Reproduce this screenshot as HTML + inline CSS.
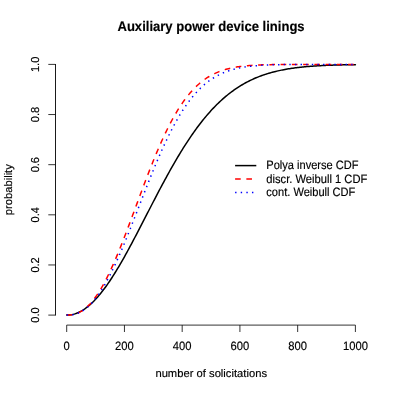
<!DOCTYPE html>
<html><head><meta charset="utf-8"><style>
html,body{margin:0;padding:0;background:#fff;}
svg{display:block;will-change:transform;opacity:0.999}
text{font-family:"Liberation Sans",sans-serif;font-size:11px;fill:#000;stroke:#000;stroke-width:0.15px;text-rendering:geometricPrecision}
</style></head><body>
<svg width="395" height="394" viewBox="0 0 395 394">
<rect width="395" height="394" fill="#fff"/>
<text transform="translate(211.05 31.40) scale(1.004,1.07)" text-anchor="middle" style="font-weight:bold;font-size:13px">Auxiliary power device linings</text>
<g stroke="#000" stroke-width="0.8" fill="none">
<path d="M55.5 64.0 V315.5" stroke-width="0.9"/>
<path d="M48.3 315.1 H55.4 M48.3 264.96000000000004 H55.4 M48.3 214.82 H55.4 M48.3 164.68 H55.4 M48.3 114.53999999999999 H55.4 M48.3 64.4 H55.4"/>
<path d="M66.7 325.1 H355.4"/>
<path d="M66.7 325.1 V332 M124.44 325.1 V332 M182.18 325.1 V332 M239.92000000000002 325.1 V332 M297.66 325.1 V332 M355.4 325.1 V332"/>
</g>
<text transform="translate(66.70 349.80) scale(1.02,1.1)" text-anchor="middle">0</text><text transform="translate(124.44 349.80) scale(1.02,1.1)" text-anchor="middle">200</text><text transform="translate(182.18 349.80) scale(1.02,1.1)" text-anchor="middle">400</text><text transform="translate(239.92 349.80) scale(1.02,1.1)" text-anchor="middle">600</text><text transform="translate(297.66 349.80) scale(1.02,1.1)" text-anchor="middle">800</text><text transform="translate(355.40 349.80) scale(1.02,1.1)" text-anchor="middle">1000</text>
<text transform="translate(211.20 376.50) scale(1.02,1.0)" text-anchor="middle">number of solicitations</text>
<text transform="translate(39.05 315.10) rotate(-90) scale(1.0,1.05)" text-anchor="middle">0.0</text><text transform="translate(39.05 264.96) rotate(-90) scale(1.0,1.05)" text-anchor="middle">0.2</text><text transform="translate(39.05 214.82) rotate(-90) scale(1.0,1.05)" text-anchor="middle">0.4</text><text transform="translate(39.05 164.68) rotate(-90) scale(1.0,1.05)" text-anchor="middle">0.6</text><text transform="translate(39.05 114.54) rotate(-90) scale(1.0,1.05)" text-anchor="middle">0.8</text><text transform="translate(39.05 64.40) rotate(-90) scale(1.0,1.05)" text-anchor="middle">1.0</text>
<text transform="translate(11.60 189.70) rotate(-90) scale(1.018,1.0)" text-anchor="middle">probability</text>
<g fill="none" stroke-width="1.5" stroke-linejoin="round">
<path d="M66.70 315.10 L67.85 315.08 L69.01 315.00 L70.16 314.88 L71.32 314.70 L72.47 314.47 L73.63 314.19 L74.78 313.86 L75.94 313.48 L77.09 313.04 L78.25 312.55 L79.40 312.01 L80.56 311.43 L81.71 310.79 L82.87 310.09 L84.02 309.35 L85.18 308.56 L86.33 307.72 L87.49 306.83 L88.64 305.89 L89.80 304.91 L90.95 303.88 L92.11 302.80 L93.26 301.67 L94.42 300.50 L95.57 299.28 L96.72 298.02 L97.88 296.72 L99.03 295.37 L100.19 293.98 L101.34 292.55 L102.50 291.08 L103.65 289.57 L104.81 288.02 L105.96 286.44 L107.12 284.82 L108.27 283.16 L109.43 281.46 L110.58 279.74 L111.74 277.98 L112.89 276.19 L114.05 274.37 L115.20 272.51 L116.36 270.63 L117.51 268.73 L118.67 266.79 L119.82 264.83 L120.98 262.85 L122.13 260.84 L123.29 258.81 L124.44 256.76 L125.59 254.69 L126.75 252.59 L127.90 250.49 L129.06 248.36 L130.21 246.22 L131.37 244.06 L132.52 241.90 L133.68 239.71 L134.83 237.52 L135.99 235.32 L137.14 233.11 L138.30 230.89 L139.45 228.66 L140.61 226.43 L141.76 224.19 L142.92 221.95 L144.07 219.70 L145.23 217.46 L146.38 215.21 L147.54 212.96 L148.69 210.72 L149.85 208.47 L151.00 206.23 L152.16 204.00 L153.31 201.76 L154.46 199.54 L155.62 197.32 L156.77 195.11 L157.93 192.90 L159.08 190.71 L160.24 188.52 L161.39 186.35 L162.55 184.19 L163.70 182.04 L164.86 179.90 L166.01 177.78 L167.17 175.67 L168.32 173.57 L169.48 171.50 L170.63 169.43 L171.79 167.39 L172.94 165.36 L174.10 163.35 L175.25 161.36 L176.41 159.39 L177.56 157.43 L178.72 155.50 L179.87 153.59 L181.03 151.69 L182.18 149.82 L183.33 147.97 L184.49 146.14 L185.64 144.34 L186.80 142.56 L187.95 140.79 L189.11 139.06 L190.26 137.34 L191.42 135.65 L192.57 133.98 L193.73 132.34 L194.88 130.72 L196.04 129.13 L197.19 127.56 L198.35 126.01 L199.50 124.49 L200.66 122.99 L201.81 121.52 L202.97 120.07 L204.12 118.64 L205.28 117.24 L206.43 115.87 L207.59 114.52 L208.74 113.19 L209.90 111.89 L211.05 110.62 L212.20 109.36 L213.36 108.14 L214.51 106.93 L215.67 105.75 L216.82 104.59 L217.98 103.46 L219.13 102.35 L220.29 101.26 L221.44 100.20 L222.60 99.16 L223.75 98.14 L224.91 97.15 L226.06 96.17 L227.22 95.22 L228.37 94.29 L229.53 93.39 L230.68 92.50 L231.84 91.63 L232.99 90.79 L234.15 89.96 L235.30 89.16 L236.46 88.38 L237.61 87.61 L238.77 86.86 L239.92 86.14 L241.07 85.43 L242.23 84.74 L243.38 84.07 L244.54 83.42 L245.69 82.78 L246.85 82.16 L248.00 81.56 L249.16 80.98 L250.31 80.41 L251.47 79.86 L252.62 79.32 L253.78 78.80 L254.93 78.29 L256.09 77.80 L257.24 77.32 L258.40 76.86 L259.55 76.41 L260.71 75.98 L261.86 75.56 L263.02 75.15 L264.17 74.75 L265.33 74.37 L266.48 73.99 L267.64 73.63 L268.79 73.28 L269.94 72.95 L271.10 72.62 L272.25 72.30 L273.41 72.00 L274.56 71.70 L275.72 71.42 L276.87 71.14 L278.03 70.88 L279.18 70.62 L280.34 70.37 L281.49 70.13 L282.65 69.90 L283.80 69.68 L284.96 69.46 L286.11 69.25 L287.27 69.05 L288.42 68.86 L289.58 68.67 L290.73 68.50 L291.89 68.32 L293.04 68.16 L294.20 68.00 L295.35 67.84 L296.51 67.70 L297.66 67.55 L298.81 67.42 L299.97 67.28 L301.12 67.16 L302.28 67.04 L303.43 66.92 L304.59 66.81 L305.74 66.70 L306.90 66.60 L308.05 66.50 L309.21 66.40 L310.36 66.31 L311.52 66.22 L312.67 66.14 L313.83 66.06 L314.98 65.98 L316.14 65.91 L317.29 65.84 L318.45 65.77 L319.60 65.71 L320.76 65.64 L321.91 65.58 L323.07 65.53 L324.22 65.47 L325.38 65.42 L326.53 65.37 L327.68 65.32 L328.84 65.28 L329.99 65.24 L331.15 65.19 L332.30 65.15 L333.46 65.12 L334.61 65.08 L335.77 65.05 L336.92 65.01 L338.08 64.98 L339.23 64.95 L340.39 64.92 L341.54 64.90 L342.70 64.87 L343.85 64.85 L345.01 64.82 L346.16 64.80 L347.32 64.78 L348.47 64.76 L349.63 64.74 L350.78 64.72 L351.94 64.71 L353.09 64.69 L354.25 64.67 L355.40 64.66" stroke="#000" stroke-linecap="round"/>
<path d="M66.70 315.10 L67.85 315.09 L69.01 315.05 L70.16 314.96 L71.32 314.83 L72.47 314.65 L73.63 314.42 L74.78 314.12 L75.94 313.77 L77.09 313.36 L78.25 312.87 L79.40 312.33 L80.56 311.71 L81.71 311.02 L82.87 310.27 L84.02 309.44 L85.18 308.54 L86.33 307.56 L87.49 306.51 L88.64 305.38 L89.80 304.18 L90.95 302.91 L92.11 301.55 L93.26 300.13 L94.42 298.63 L95.57 297.05 L96.72 295.40 L97.88 293.68 L99.03 291.88 L100.19 290.01 L101.34 288.07 L102.50 286.07 L103.65 283.99 L104.81 281.85 L105.96 279.64 L107.12 277.37 L108.27 275.04 L109.43 272.64 L110.58 270.19 L111.74 267.68 L112.89 265.12 L114.05 262.51 L115.20 259.84 L116.36 257.13 L117.51 254.38 L118.67 251.58 L119.82 248.74 L120.98 245.86 L122.13 242.95 L123.29 240.00 L124.44 237.03 L125.59 234.03 L126.75 231.00 L127.90 227.95 L129.06 224.89 L130.21 221.80 L131.37 218.71 L132.52 215.60 L133.68 212.48 L134.83 209.36 L135.99 206.24 L137.14 203.12 L138.30 199.99 L139.45 196.88 L140.61 193.77 L141.76 190.68 L142.92 187.59 L144.07 184.52 L145.23 181.47 L146.38 178.44 L147.54 175.43 L148.69 172.45 L149.85 169.49 L151.00 166.56 L152.16 163.66 L153.31 160.79 L154.46 157.96 L155.62 155.16 L156.77 152.40 L157.93 149.68 L159.08 147.00 L160.24 144.37 L161.39 141.77 L162.55 139.22 L163.70 136.71 L164.86 134.25 L166.01 131.84 L167.17 129.48 L168.32 127.16 L169.48 124.89 L170.63 122.68 L171.79 120.51 L172.94 118.39 L174.10 116.33 L175.25 114.31 L176.41 112.35 L177.56 110.44 L178.72 108.58 L179.87 106.77 L181.03 105.01 L182.18 103.31 L183.33 101.65 L184.49 100.04 L185.64 98.49 L186.80 96.98 L187.95 95.52 L189.11 94.11 L190.26 92.75 L191.42 91.43 L192.57 90.16 L193.73 88.93 L194.88 87.75 L196.04 86.62 L197.19 85.52 L198.35 84.47 L199.50 83.46 L200.66 82.49 L201.81 81.56 L202.97 80.66 L204.12 79.81 L205.28 78.99 L206.43 78.20 L207.59 77.45 L208.74 76.74 L209.90 76.05 L211.05 75.40 L212.20 74.77 L213.36 74.18 L214.51 73.62 L215.67 73.08 L216.82 72.57 L217.98 72.08 L219.13 71.62 L220.29 71.18 L221.44 70.76 L222.60 70.37 L223.75 70.00 L224.91 69.64 L226.06 69.31 L227.22 68.99 L228.37 68.70 L229.53 68.41 L230.68 68.15 L231.84 67.90 L232.99 67.66 L234.15 67.44 L235.30 67.23 L236.46 67.04 L237.61 66.85 L238.77 66.68 L239.92 66.52 L241.07 66.37 L242.23 66.23 L243.38 66.09 L244.54 65.97 L245.69 65.85 L246.85 65.75 L248.00 65.64 L249.16 65.55 L250.31 65.46 L251.47 65.38 L252.62 65.30 L253.78 65.23 L254.93 65.17 L256.09 65.11 L257.24 65.05 L258.40 65.00 L259.55 64.95 L260.71 64.90 L261.86 64.86 L263.02 64.82 L264.17 64.79 L265.33 64.76 L266.48 64.73 L267.64 64.70 L268.79 64.67 L269.94 64.65 L271.10 64.63 L272.25 64.61 L273.41 64.59 L274.56 64.57 L275.72 64.56 L276.87 64.54 L278.03 64.53 L279.18 64.52 L280.34 64.51 L281.49 64.50 L282.65 64.49 L283.80 64.48 L284.96 64.47 L286.11 64.46 L287.27 64.46 L288.42 64.45 L289.58 64.45 L290.73 64.44 L291.89 64.44 L293.04 64.43 L294.20 64.43 L295.35 64.43 L296.51 64.43 L297.66 64.42 L298.81 64.42 L299.97 64.42 L301.12 64.42 L302.28 64.41 L303.43 64.41 L304.59 64.41 L305.74 64.41 L306.90 64.41 L308.05 64.41 L309.21 64.41 L310.36 64.41 L311.52 64.41 L312.67 64.41 L313.83 64.40 L314.98 64.40 L316.14 64.40 L317.29 64.40 L318.45 64.40 L319.60 64.40 L320.76 64.40 L321.91 64.40 L323.07 64.40 L324.22 64.40 L325.38 64.40 L326.53 64.40 L327.68 64.40 L328.84 64.40 L329.99 64.40 L331.15 64.40 L332.30 64.40 L333.46 64.40 L334.61 64.40 L335.77 64.40 L336.92 64.40 L338.08 64.40 L339.23 64.40 L340.39 64.40 L341.54 64.40 L342.70 64.40 L343.85 64.40 L345.01 64.40 L346.16 64.40 L347.32 64.40 L348.47 64.40 L349.63 64.40 L350.78 64.40 L351.94 64.40 L353.09 64.40 L354.25 64.40 L355.40 64.40" stroke="#ff0000" stroke-dasharray="5.625 5.625"/>
<path d="M66.70 315.10 L67.85 315.09 L69.01 315.05 L70.16 314.97 L71.32 314.85 L72.47 314.69 L73.63 314.47 L74.78 314.20 L75.94 313.88 L77.09 313.49 L78.25 313.05 L79.40 312.55 L80.56 311.99 L81.71 311.36 L82.87 310.67 L84.02 309.91 L85.18 309.09 L86.33 308.19 L87.49 307.23 L88.64 306.21 L89.80 305.11 L90.95 303.94 L92.11 302.71 L93.26 301.41 L94.42 300.03 L95.57 298.59 L96.72 297.08 L97.88 295.51 L99.03 293.87 L100.19 292.16 L101.34 290.38 L102.50 288.54 L103.65 286.64 L104.81 284.67 L105.96 282.65 L107.12 280.56 L108.27 278.42 L109.43 276.22 L110.58 273.96 L111.74 271.65 L112.89 269.28 L114.05 266.87 L115.20 264.41 L116.36 261.90 L117.51 259.35 L118.67 256.75 L119.82 254.11 L120.98 251.44 L122.13 248.72 L123.29 245.98 L124.44 243.20 L125.59 240.39 L126.75 237.56 L127.90 234.70 L129.06 231.81 L130.21 228.91 L131.37 225.99 L132.52 223.06 L133.68 220.11 L134.83 217.15 L135.99 214.18 L137.14 211.20 L138.30 208.23 L139.45 205.25 L140.61 202.27 L141.76 199.29 L142.92 196.32 L144.07 193.36 L145.23 190.41 L146.38 187.47 L147.54 184.55 L148.69 181.64 L149.85 178.75 L151.00 175.88 L152.16 173.03 L153.31 170.20 L154.46 167.40 L155.62 164.63 L156.77 161.89 L157.93 159.17 L159.08 156.49 L160.24 153.85 L161.39 151.23 L162.55 148.66 L163.70 146.12 L164.86 143.62 L166.01 141.16 L167.17 138.74 L168.32 136.36 L169.48 134.02 L170.63 131.72 L171.79 129.47 L172.94 127.27 L174.10 125.10 L175.25 122.99 L176.41 120.92 L177.56 118.89 L178.72 116.91 L179.87 114.98 L181.03 113.09 L182.18 111.25 L183.33 109.46 L184.49 107.72 L185.64 106.02 L186.80 104.36 L187.95 102.75 L189.11 101.19 L190.26 99.68 L191.42 98.20 L192.57 96.78 L193.73 95.39 L194.88 94.05 L196.04 92.76 L197.19 91.50 L198.35 90.29 L199.50 89.12 L200.66 87.99 L201.81 86.90 L202.97 85.85 L204.12 84.83 L205.28 83.86 L206.43 82.92 L207.59 82.01 L208.74 81.14 L209.90 80.31 L211.05 79.51 L212.20 78.74 L213.36 78.00 L214.51 77.30 L215.67 76.62 L216.82 75.97 L217.98 75.36 L219.13 74.76 L220.29 74.20 L221.44 73.66 L222.60 73.15 L223.75 72.65 L224.91 72.19 L226.06 71.74 L227.22 71.32 L228.37 70.92 L229.53 70.53 L230.68 70.17 L231.84 69.82 L232.99 69.50 L234.15 69.19 L235.30 68.89 L236.46 68.61 L237.61 68.35 L238.77 68.10 L239.92 67.87 L241.07 67.65 L242.23 67.44 L243.38 67.24 L244.54 67.05 L245.69 66.88 L246.85 66.71 L248.00 66.55 L249.16 66.41 L250.31 66.27 L251.47 66.14 L252.62 66.02 L253.78 65.91 L254.93 65.80 L256.09 65.70 L257.24 65.61 L258.40 65.52 L259.55 65.44 L260.71 65.36 L261.86 65.29 L263.02 65.22 L264.17 65.16 L265.33 65.11 L266.48 65.05 L267.64 65.00 L268.79 64.96 L269.94 64.91 L271.10 64.87 L272.25 64.83 L273.41 64.80 L274.56 64.77 L275.72 64.74 L276.87 64.71 L278.03 64.69 L279.18 64.66 L280.34 64.64 L281.49 64.62 L282.65 64.60 L283.80 64.58 L284.96 64.57 L286.11 64.55 L287.27 64.54 L288.42 64.53 L289.58 64.52 L290.73 64.51 L291.89 64.50 L293.04 64.49 L294.20 64.48 L295.35 64.47 L296.51 64.47 L297.66 64.46 L298.81 64.46 L299.97 64.45 L301.12 64.45 L302.28 64.44 L303.43 64.44 L304.59 64.43 L305.74 64.43 L306.90 64.43 L308.05 64.42 L309.21 64.42 L310.36 64.42 L311.52 64.42 L312.67 64.42 L313.83 64.41 L314.98 64.41 L316.14 64.41 L317.29 64.41 L318.45 64.41 L319.60 64.41 L320.76 64.41 L321.91 64.41 L323.07 64.41 L324.22 64.41 L325.38 64.41 L326.53 64.40 L327.68 64.40 L328.84 64.40 L329.99 64.40 L331.15 64.40 L332.30 64.40 L333.46 64.40 L334.61 64.40 L335.77 64.40 L336.92 64.40 L338.08 64.40 L339.23 64.40 L340.39 64.40 L341.54 64.40 L342.70 64.40 L343.85 64.40 L345.01 64.40 L346.16 64.40 L347.32 64.40 L348.47 64.40 L349.63 64.40 L350.78 64.40 L351.94 64.40 L353.09 64.40 L354.25 64.40 L355.40 64.40" stroke="#0000ff" stroke-dasharray="1.4 4.225"/>
<path d="M235.1 165.6 H256.3" stroke="#000"/>
<path d="M235.1 179 H256.3" stroke="#ff0000" stroke-dasharray="5.625 5.625"/>
<path d="M235.1 192.5 H256.3" stroke="#0000ff" stroke-dasharray="1.4 4.225"/>
</g>
<text transform="translate(266.30 169.45) scale(1.006,1.1)" text-anchor="start">Polya inverse CDF</text>
<text transform="translate(266.30 183.15) scale(1.016,1.1)" text-anchor="start">discr. Weibull 1 CDF</text>
<text transform="translate(266.30 196.45) scale(1.007,1.1)" text-anchor="start">cont. Weibull CDF</text>
</svg>
</body></html>
